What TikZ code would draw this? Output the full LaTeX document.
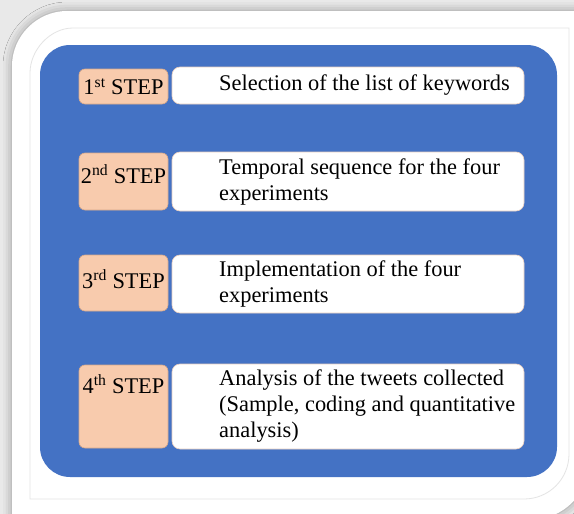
\documentclass[tikz,border=0pt]{standalone}
\usepackage{fontspec}
\setmainfont{Liberation Serif}
\usetikzlibrary{shadows.blur}
\definecolor{stepblue}{HTML}{4472C4}
\definecolor{steporange}{HTML}{F8CBAD}
\definecolor{orangeline}{HTML}{D6A88A}
\definecolor{whiteline}{HTML}{E8CDBE}
\definecolor{pagegrey}{HTML}{E9E9E9}
\definecolor{frameline}{HTML}{E4E4E4}
\begin{document}
\begin{tikzpicture}[x=1pt, y=-1pt,
  stepbox/.style={draw=orangeline, fill=steporange, line width=0.6pt, rounded corners=6pt,
    inner sep=0pt, outer sep=0pt, minimum width=89pt, anchor=north west},
  stepbody/.style={draw=whiteline, fill=white, line width=0.6pt, rounded corners=8pt,
    inner sep=0pt, outer sep=0pt, minimum width=352pt, anchor=north west},
  steptag/.style={inner sep=0pt, font=\fontsize{22.4}{26}\selectfont},
  steptext/.style={inner sep=0pt, anchor=west, align=left, font=\fontsize{22.4}{26}\selectfont}]
\useasboundingbox (0,0) rectangle (574,514);
% page and card
\fill[pagegrey] (0,0) rectangle (574,514);
\fill[white, blur shadow={shadow xshift=0pt, shadow yshift=0pt, shadow blur radius=9pt, shadow opacity=35}]
  (12,530) -- (12,66) .. controls (12,36) and (37,11) .. (67,11) -- (590,11) -- (590,460)
  .. controls (590,493) and (563,520) .. (530,520) -- (530,530) -- cycle;
\draw[frameline, line width=0.8pt] (30,499) -- (30,73) .. controls (30,50) and (50,28) .. (73,28)
  -- (569,28) -- (569,454) .. controls (569,479) and (549,499) .. (524,499) -- cycle;
% blue panel
\fill[stepblue, rounded corners=30pt] (40,45) rectangle (557,477);
% step 1
\node[stepbox, minimum height=35pt] (s1) at (79,69) {};
\node[stepbody, minimum height=37pt] (t1) at (172,67) {};
\node[steptag] (s1tag) at (s1.center) {1\textsuperscript{st} STEP};
\node[steptext] (t1text) at ([xshift=47pt]t1.west) {Selection of the list of keywords};
% step 2
\node[stepbox, minimum height=57pt] (s2) at (79,153) {};
\node[stepbody, minimum height=59pt] (t2) at (172,152) {};
\node[steptag] (s2tag) at ([yshift=-21pt]s2.north) {2\textsuperscript{nd} STEP};
\node[steptext] (t2text) at ([xshift=47pt]t2.west) {Temporal sequence for the four\\experiments};
% step 3
\node[stepbox, minimum height=56pt] (s3) at (79,255) {};
\node[stepbody, minimum height=58pt] (t3) at (172,255) {};
\node[steptag] (s3tag) at ([yshift=-24pt]s3.north) {3\textsuperscript{rd} STEP};
\node[steptext] (t3text) at ([xshift=47pt]t3.west) {Implementation of the four\\experiments};
% step 4
\node[stepbox, minimum height=83pt] (s4) at (79,365) {};
\node[stepbody, minimum height=85pt] (t4) at (172,364) {};
\node[steptag] (s4tag) at ([yshift=-19pt]s4.north) {4\textsuperscript{th} STEP};
\node[steptext] (t4text) at ([xshift=47pt]t4.west) {Analysis of the tweets collected\\(Sample, coding and quantitative\\analysis)};
\end{tikzpicture}
\end{document}
